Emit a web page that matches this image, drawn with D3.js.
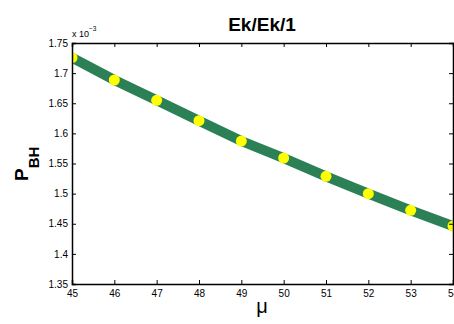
<!DOCTYPE html>
<html>
<head>
<meta charset="utf-8">
<script src="https://cdn.jsdelivr.net/npm/d3@7"></script>
<style>
  html, body { margin: 0; padding: 0; background: #fff; overflow: hidden; }
  svg { display: block; font-family: "Liberation Sans", Arial, sans-serif; }
</style>
</head>
<body>
<div id="chart"></div>
<script>
// Data (P_BH in units of 1e-3)
const mu = [45, 46, 47, 48, 49, 50, 51, 52, 53, 54];
const pbh = [1.7256, 1.6886, 1.6549, 1.621, 1.5873, 1.559, 1.5287, 1.500, 1.4723, 1.4463];
const xTicks = [45, 46, 47, 48, 49, 50, 51, 52, 53, 54];
const yTicks = [1.35, 1.4, 1.45, 1.5, 1.55, 1.6, 1.65, 1.7, 1.75];

const width = 454,
  height = 324;
const margin = { top: 43, right: 1, bottom: 40, left: 72 };

const svg = d3
  .select('#chart')
  .append('svg')
  .attr('width', width)
  .attr('height', height);

const x = d3.scaleLinear().domain([45, 54]).range([margin.left, width - margin.right]);
const y = d3.scaleLinear().domain([1.35, 1.75]).range([height - margin.bottom, margin.top]);

// clip to the axes box
svg.append('clipPath').attr('id', 'clip')
  .append('rect')
  .attr('x', margin.left)
  .attr('y', margin.top)
  .attr('width', x.range()[1] - x.range()[0])
  .attr('height', y.range()[0] - y.range()[1]);

const plot = svg.append('g').attr('clip-path', 'url(#clip)');

const line = d3.line()
  .x((d, i) => x(mu[i]))
  .y((d) => y(d));

plot.append('path')
  .datum(pbh)
  .attr('d', line)
  .attr('fill', 'none')
  .attr('stroke', '#2b8055')
  .attr('stroke-width', 10);

plot.selectAll('circle')
  .data(pbh)
  .join('circle')
  .attr('cx', (d, i) => x(mu[i]))
  .attr('cy', (d) => y(d))
  .attr('r', 5.5)
  .attr('fill', '#ffff00');

// axes (ticks pointing inward, mirrored on top/right)
const tickLen = 4;
svg.append('g')
  .attr('transform', `translate(0,${y.range()[0]})`)
  .call(d3.axisBottom(x).tickValues(xTicks).tickSize(-tickLen).tickPadding(6).tickFormat(d3.format('d')));
svg.append('g')
  .attr('transform', `translate(0,${y.range()[1]})`)
  .call(d3.axisTop(x).tickValues(xTicks).tickSize(-tickLen).tickFormat(''));
svg.append('g')
  .attr('transform', `translate(${x.range()[0]},0)`)
  .call(d3.axisLeft(y).tickValues(yTicks).tickSize(-tickLen).tickPadding(4).tickFormat((d) => d3.format('')(+d.toFixed(2))));
svg.append('g')
  .attr('transform', `translate(${x.range()[1]},0)`)
  .call(d3.axisRight(y).tickValues(yTicks).tickSize(-tickLen).tickFormat(''));

svg.selectAll('.domain').attr('stroke', '#000').attr('stroke-width', 1.5);
svg.selectAll('.tick line').attr('stroke', '#000');
svg.selectAll('.tick text').attr('font-size', 10).attr('fill', '#000').attr('font-family', '"Liberation Sans", Arial, sans-serif');

// exponent label
const expo = svg.append('text')
  .attr('x', 72)
  .attr('y', 37)
  .attr('font-size', 9);
expo.append('tspan').text('x 10');
expo.append('tspan').attr('dy', -6).attr('font-size', 6.5).text('−3');

// title
svg.append('text')
  .attr('x', 262)
  .attr('y', 31)
  .attr('text-anchor', 'middle')
  .attr('font-size', 19)
  .attr('font-weight', 'bold')
  .text('Ek/Ek/1');

// x label
svg.append('text')
  .attr('x', 262)
  .attr('y', 313)
  .attr('text-anchor', 'middle')
  .attr('font-size', 20)
  .text('μ');

// y label
const ylab = svg.append('text')
  .attr('transform', 'translate(28,181) rotate(-90)')
  .attr('font-size', 19)
  .attr('font-weight', 'bold');
ylab.append('tspan').text('P');
ylab.append('tspan').attr('dy', 11).attr('font-size', 15).text('BH');
</script>
</body>
</html>
